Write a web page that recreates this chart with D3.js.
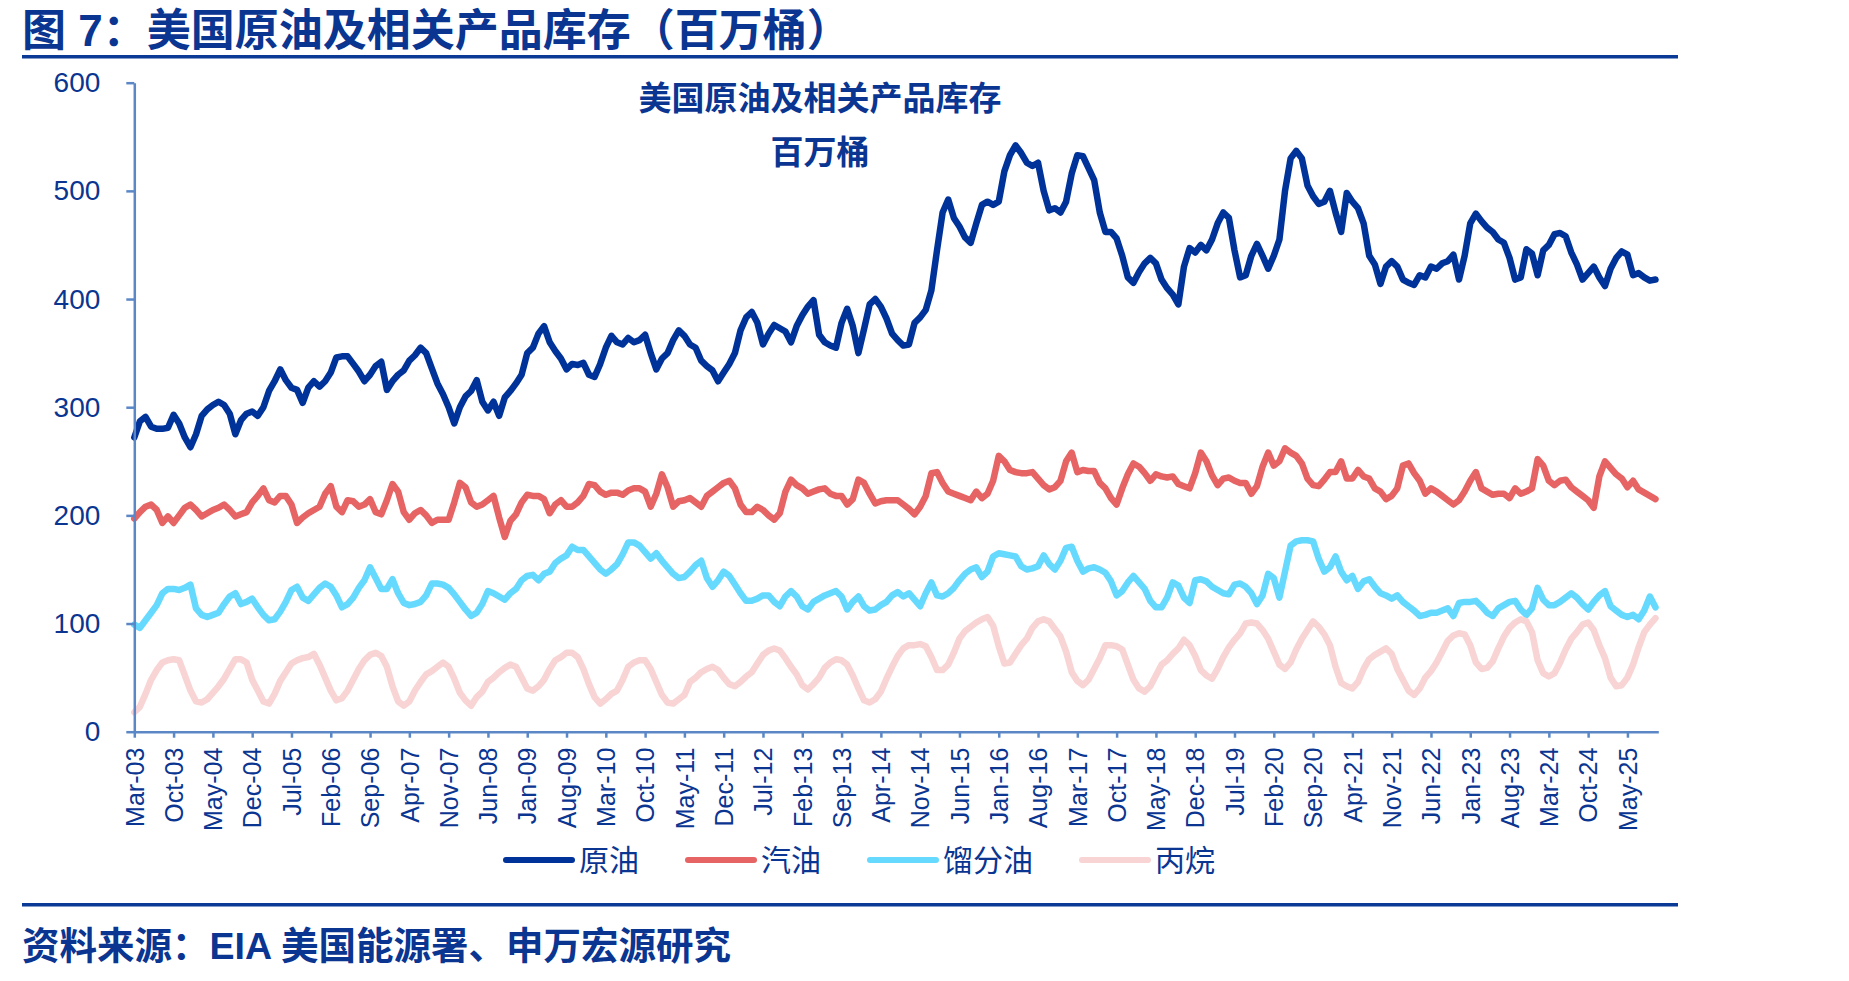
<!DOCTYPE html>
<html lang="zh-CN">
<head>
<meta charset="UTF-8">
<title>美国原油及相关产品库存</title>
<style>
  body { margin: 0; background: #fff; }
  svg { display: block; font-family: Arial, "Liberation Sans", "Noto Sans CJK SC", sans-serif; }
</style>
</head>
<body>
<div id="chart"></div>
<script src="https://d3js.org/d3.v7.min.js"></script>
<script>
// monthly readings, first point Mar-03, last point Oct-25 (million barrels)
const crude = [
  272, 287, 291, 282, 280, 280, 281, 293, 285, 272, 263, 275,
  292, 298, 302, 305, 302, 294, 275, 288, 294, 296, 292, 300,
  315, 324, 335, 325, 318, 316, 304, 318, 324, 319, 324, 332,
  346, 347, 347, 340, 333, 324, 330, 338, 342, 316, 324, 330,
  334, 343, 348, 355, 350, 336, 322, 312, 300, 285, 300, 310,
  315, 325, 305, 297, 305, 292, 309, 315, 322, 330, 350, 355,
  368, 375, 360, 352, 345, 335, 340, 339, 341, 330, 328, 340,
  355, 366, 360, 358, 364, 360, 362, 367, 350, 335, 345, 350,
  362, 371, 366, 358, 355, 343, 338, 334, 324, 332, 340, 350,
  371, 383, 388, 378, 358, 368, 376, 373, 370, 360, 375, 385,
  393, 399, 367, 360, 357, 355, 378, 391, 375, 350, 372, 395,
  400, 393, 382, 368, 362, 357, 358, 378, 383, 390, 408, 445,
  480, 492, 475, 467, 457, 452, 470, 487, 490, 487, 490, 518,
  533, 542, 535, 526, 523, 526, 500, 482, 484, 480, 490, 516,
  533, 532, 521, 510, 480, 462, 462, 456, 440, 420, 415, 425,
  433, 438, 433, 418, 410, 404, 395, 430, 447, 443, 450, 445,
  455, 470, 480, 475, 445, 420, 422, 440, 451, 440, 428, 440,
  455, 500, 530, 537, 530, 505, 495, 488, 490, 500, 480, 462,
  498, 490, 484, 470, 440, 432, 414, 430, 435, 430, 418, 415,
  413, 422, 420, 430, 428, 433, 435, 441, 418, 440, 470, 479,
  472, 466, 462, 455, 452, 438, 418, 420, 446, 442, 422, 445,
  450, 460, 461, 458, 443, 432, 418, 424, 430, 420, 412, 428,
  438, 444, 441, 422, 424, 420, 417, 418
];
const gasoline = [
  197, 203, 208, 210, 205, 193, 199, 193, 200, 207, 210, 205,
  199, 202, 205, 207, 210, 205, 199, 201, 203, 212, 218, 225,
  214, 212, 218, 218, 210, 193, 198, 202, 205, 208, 220, 227,
  208, 203, 214, 213, 208, 210, 215, 203, 201, 214, 229, 222,
  203, 196, 202, 205, 200, 193, 196, 196, 196, 212, 230, 226,
  212, 208, 210, 214, 218, 198, 180, 195, 201, 212, 219, 218,
  218, 215, 202, 210, 214, 208, 208, 212, 218, 229, 228, 222,
  219, 221, 221, 219, 223, 225, 225, 222, 208, 220, 238, 226,
  208, 213, 214, 216, 212, 208, 218, 222, 226, 230, 232, 225,
  210, 203, 203, 208, 205, 200, 196, 202, 222, 233, 228, 225,
  220, 222, 224, 225, 220, 218, 218, 210, 215, 233, 230, 220,
  211, 213, 214, 214, 214, 210, 206, 201, 208, 218, 239, 240,
  230, 222, 220, 218, 216, 214, 222, 216, 220, 232, 255, 250,
  242, 240, 239, 239, 240, 234, 228, 224, 226, 232, 250, 258,
  240, 242, 241, 241, 230, 225, 216, 210, 225, 238, 248, 245,
  239, 232, 238, 236, 235, 236, 229, 227, 225, 239, 258, 250,
  237, 228, 234, 235, 232, 230, 230, 220, 227, 245, 258, 246,
  250, 262, 258, 255, 248, 234, 228, 227, 233, 240, 240, 250,
  234, 234, 242, 236, 234, 225, 222, 215, 218, 225, 246, 248,
  239, 232, 220, 225, 222, 218, 214, 210, 214, 222, 232, 240,
  225, 222, 219, 220, 220, 216, 225, 220, 222, 225, 252, 246,
  232, 228, 232, 233, 226, 222, 218, 214, 207, 236, 250, 244,
  238, 234, 226, 232, 224, 221, 218, 215
];
const distillate = [
  99, 96, 103, 110, 117, 128, 132, 132, 131, 133, 136, 114,
  108, 106, 108, 110, 118, 125, 128, 118, 120, 123, 115, 108,
  103, 104, 111, 120, 131, 134, 124, 121, 127, 133, 137, 134,
  126, 115, 118, 124, 133, 140, 152, 142, 132, 132, 141, 128,
  119, 117, 118, 120, 126, 137, 137, 136, 133, 127, 120, 113,
  107, 110, 118, 130, 128, 125, 122, 128, 132, 140, 144, 145,
  140, 146, 148, 156, 160, 163, 171, 168, 168, 162, 156, 150,
  146, 150, 155, 164, 175, 175, 172, 166, 160, 165, 158, 152,
  146, 142, 143, 148, 154, 158, 142, 134, 140, 148, 144, 136,
  128, 121, 121, 123, 126, 126, 120, 116, 125, 130, 125, 116,
  113, 120, 123, 126, 128, 130, 125, 113, 120, 125, 116, 112,
  113, 117, 120, 126, 129, 125, 128, 122, 116, 128, 138, 126,
  125, 128, 133, 140, 146, 150, 152, 143, 148, 162, 165, 164,
  163, 162, 153, 150, 151, 153, 163, 155, 150, 158, 170, 171,
  158, 148, 151, 152, 150, 147, 139, 126, 130, 138, 144, 138,
  132, 121, 115, 115, 124, 138, 135, 124, 119, 140, 141, 139,
  134, 131, 128, 127, 136, 137, 134, 128, 118, 126, 146, 142,
  124, 148, 172, 176, 177, 177, 176, 160, 148, 152, 162, 148,
  140, 144, 132, 139, 141, 134, 128, 126, 123, 126, 120, 116,
  112, 107, 108, 110, 110, 112, 114, 107, 119, 120, 120, 121,
  116, 110, 107, 114, 117, 120, 121, 113, 108, 114, 133, 122,
  117, 117, 120, 124, 128, 124, 118, 113, 120, 126, 130, 116,
  112, 108, 106, 108, 104, 112, 125, 115
];
const propane = [
  18, 23, 35, 48, 57, 64, 66, 67, 66, 52, 38, 28,
  27, 30, 36, 42, 49, 58, 67, 67, 64, 48, 38, 28,
  26, 35, 47, 55, 63, 66, 68, 69, 72, 62, 50, 38,
  29, 31, 38, 48, 58, 66, 71, 73, 70, 60, 42, 28,
  24, 28, 38, 46, 53, 56, 60, 64, 60, 49, 36, 29,
  24, 32, 37, 46, 50, 55, 59, 62, 60, 50, 40, 38,
  42, 48, 58, 66, 69, 73, 73, 69, 58, 44, 32, 26,
  30, 35, 38, 48, 60, 64, 66, 66, 58, 46, 34, 27,
  26, 30, 34, 46, 50, 55, 58, 60, 57, 50, 44, 42,
  46, 51, 55, 63, 71, 75, 77, 75, 68, 60, 53, 43,
  39, 44, 50, 59, 64, 67, 66, 62, 52, 40, 29, 27,
  30, 37, 49, 60, 70, 77, 80, 80, 81, 79, 69, 57,
  57, 62, 73, 86, 93, 97, 101, 104, 106, 98, 79, 63,
  64, 72, 80, 86, 96, 102, 104, 102, 95, 88, 74, 55,
  47, 43, 48, 58, 68, 80, 80, 79, 76, 62, 48, 40,
  37, 42, 52, 62, 66, 72, 77, 85, 80, 70, 57, 52,
  49, 58, 69, 78, 85, 91, 100, 101, 100, 94, 86, 74,
  62, 58, 64, 76, 86, 94, 102, 97, 90, 80, 60, 45,
  42, 40, 46, 58, 67, 71, 74, 77, 72, 58, 48, 38,
  34, 40, 50, 56, 64, 74, 84, 89, 91, 90, 80, 64,
  58, 59, 65, 77, 88, 96, 101, 104, 102, 92, 66, 54,
  51, 54, 64, 76, 86, 92, 99, 101, 94, 80, 68, 50,
  42, 43, 50, 62, 78, 92, 99, 105
];

// category labels every 7 months, starting at the first point
const tickLabels = [
  "Mar-03", "Oct-03", "May-04", "Dec-04", "Jul-05", "Feb-06", "Sep-06", "Apr-07",
  "Nov-07", "Jun-08", "Jan-09", "Aug-09", "Mar-10", "Oct-10", "May-11", "Dec-11",
  "Jul-12", "Feb-13", "Sep-13", "Apr-14", "Nov-14", "Jun-15", "Jan-16", "Aug-16",
  "Mar-17", "Oct-17", "May-18", "Dec-18", "Jul-19", "Feb-20", "Sep-20", "Apr-21",
  "Nov-21", "Jun-22", "Jan-23", "Aug-23", "Mar-24", "Oct-24", "May-25"
];
const tickStep = 7;
const yTicks = [0, 100, 200, 300, 400, 500, 600];

const seriesNames = ["原油", "汽油", "馏分油", "丙烷"];
const seriesColors = ["#003399", "#e66464", "#66d9ff", "#f8d4d4"];
const seriesData = [crude, gasoline, distillate, propane];

const W = 1849, H = 981;
const plot = { left: 134.3, right: 1658.3, top: 82.7, bottom: 731.7 };
const textColor = "#0a3591";
const axisColor = "#5b87c6";

const svg = d3.select("#chart")
  .append("svg")
  .attr("width", W)
  .attr("height", H);

svg.append("rect").attr("width", W).attr("height", H).attr("fill", "#fff");

// header and footer
svg.append("text")
  .attr("x", 22).attr("y", 46)
  .attr("fill", textColor)
  .attr("font-size", 44).attr("font-weight", "bold")
  .text("图 7：美国原油及相关产品库存（百万桶）");

svg.append("rect").attr("x", 22).attr("y", 55).attr("width", 1656).attr("height", 3.5).attr("fill", "#0b3a96");
svg.append("rect").attr("x", 22).attr("y", 903).attr("width", 1656).attr("height", 3.5).attr("fill", "#0b3a96");

svg.append("text")
  .attr("x", 22).attr("y", 959)
  .attr("fill", textColor)
  .attr("font-size", 37.5).attr("font-weight", "bold")
  .text("资料来源：EIA 美国能源署、申万宏源研究");

// scales
const x = d3.scaleLinear().domain([0, 271.5]).range([plot.left, plot.right]);
const y = d3.scaleLinear().domain([0, 600]).range([plot.bottom, plot.top]);

// chart title
svg.append("text")
  .attr("x", 820).attr("y", 110)
  .attr("text-anchor", "middle")
  .attr("fill", textColor)
  .attr("font-size", 33).attr("font-weight", "bold")
  .text("美国原油及相关产品库存");
svg.append("text")
  .attr("x", 820).attr("y", 164)
  .attr("text-anchor", "middle")
  .attr("fill", textColor)
  .attr("font-size", 33).attr("font-weight", "bold")
  .text("百万桶");

// lines
const line = d3.line()
  .x((d, i) => x(i))
  .y(d => y(d));

seriesData.forEach((data, k) => {
  svg.append("path")
    .datum(data)
    .attr("fill", "none")
    .attr("stroke", seriesColors[k])
    .attr("stroke-width", 6.5)
    .attr("stroke-linejoin", "round")
    .attr("stroke-linecap", "round")
    .attr("d", line);
});

// axes
const yAxis = svg.append("g")
  .attr("transform", `translate(${plot.left},0)`)
  .call(d3.axisLeft(y).tickValues(yTicks).tickSize(8).tickSizeOuter(0).tickPadding(26));

const xAxis = svg.append("g")
  .attr("transform", `translate(0,${plot.bottom})`)
  .call(d3.axisBottom(x)
    .tickValues(tickLabels.map((d, i) => i * tickStep))
    .tickFormat((d, i) => tickLabels[i])
    .tickSize(6).tickSizeOuter(0));

[yAxis, xAxis].forEach(g => {
  g.select(".domain").attr("stroke", axisColor).attr("stroke-width", 2.5);
  g.selectAll(".tick line").attr("stroke", axisColor).attr("stroke-width", 2.5);
  g.selectAll("text").attr("fill", textColor).attr("font-family", "Arial, 'Liberation Sans', sans-serif");
});

yAxis.selectAll("text").attr("font-size", 28);

xAxis.selectAll("text")
  .attr("font-size", 25)
  .attr("text-anchor", "end")
  .attr("x", 0).attr("y", 0)
  .attr("dy", "0.35em")
  .attr("transform", "translate(0,16) rotate(-90)");

// legend
const legend = svg.append("g");
let lx = 503;
seriesNames.forEach((name, k) => {
  legend.append("line")
    .attr("x1", lx + 3).attr("x2", lx + 69)
    .attr("y1", 860).attr("y2", 860)
    .attr("stroke", seriesColors[k])
    .attr("stroke-width", 6)
    .attr("stroke-linecap", "round");
  const t = legend.append("text")
    .attr("x", lx + 76).attr("y", 871)
    .attr("fill", textColor)
    .attr("font-size", 30)
    .attr("font-family", "'Noto Sans CJK SC', sans-serif")
    .text(name);
  lx += 76 + t.node().getComputedTextLength() + 46;
});
</script>
</body>
</html>
